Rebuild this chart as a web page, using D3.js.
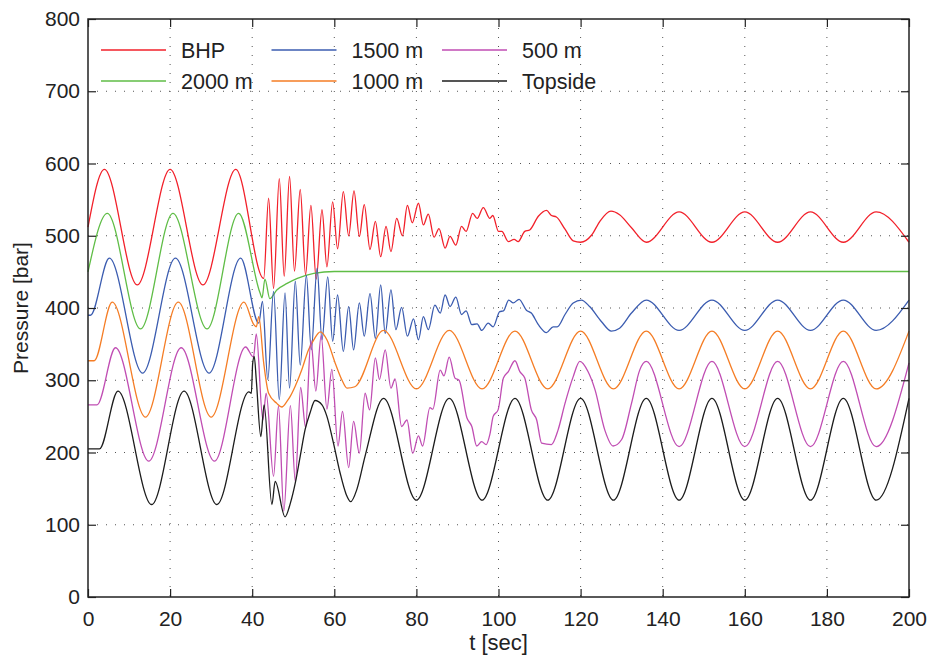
<!DOCTYPE html>
<html>
<head>
<meta charset="utf-8">
<script src="https://cdn.jsdelivr.net/npm/d3@7"></script>
<style>
  body { margin: 0; background: #fff; }
  text { font-family: "Liberation Sans", Arial, Helvetica, sans-serif; fill: #222; }
</style>
</head>
<body>
<div id="chart"></div>
<script>
// Valeurs : [t (s), pression (bar)]
const bhp = [[0,512],[4,592],[12,432],[20,592],[28,432],[36,592],[42.8,441],[44,552],[45.2,427],[46.6,579],
  [47.8,444],[49.1,582],[50.3,451],[51.7,564],[53,446],[54.3,542],[55.6,440],[57,536],[58.2,457],[59.6,547],
  [60.8,482],[62.2,561],[63.5,500],[64.8,562],[66.1,499],[67.3,543],[68.7,481],[70,520],[71.3,471],[72.6,513],
  [73.8,478],[75.2,524],[76.6,500],[77.8,542],[79,518],[80.5,545],[81.7,515],[82.9,530],[84.3,498],[85.5,510],
  [87,483],[88.2,499],[89.6,487],[91,513],[92.1,506],[93.7,531],[94.8,524],[96.3,539],[97.9,524],[98.6,528],
  [100,506],[100.8,506],[102.4,492],[103.8,495],[104.8,492],[106.4,506],[107.6,508],[109.7,527],[111.7,535],
  [112.9,528],[114.1,526],[116.2,509],[118.2,493],[120,491],[122.7,501],[124.7,520],[127.4,534],[129.5,529],
  [132.4,511],[136,491],[144,533],[152,491],[160,533],[168,491],[176,533],[184,491],[192,533],[200,491]];

const p2000 = [[0,450],[4.7,531],[12.8,371],[20.7,531],[29,371],[36.7,531],[41.9,421],[42.4,414],[43.1,440],
  [44.3,413],[46,425],[48.5,434],[51,441],[55,448],[60,450.5],[200,450.5]];

const p1500 = [[0,390],[0.6,390],[5.2,469],[13.3,310],[21.3,469],[29.5,310],[37.2,469],[41.6,379],[42.5,409],
  [43.8,301],[45.2,423],[46.6,273],[48,421],[49.1,289],[50.5,437],[51.7,321],[53.2,445],[54.4,342],[55.8,455],
  [57,356],[58.4,443],[59.6,354],[60.8,418],[62.2,340],[63.5,402],[64.7,342],[66.1,407],[67.3,361],[68.7,420],
  [70,358],[71.3,432],[72.4,365],[73.8,425],[75,370],[76.4,401],[77.8,361],[79.3,385],[80.5,356],[81.7,388],
  [82.9,370],[84.5,404],[85.8,393],[87,418],[88.2,402],[89.6,415],[91,391],[92.1,396],[93.5,377],[94.8,378],
  [95.9,369],[97.5,379],[98.7,374],[100.3,395],[101.2,396],[102.5,411],[103.6,407],[105,412],[106.8,397],
  [108,393],[109.7,377],[111.7,366],[113.3,374],[114.3,374],[116.2,391],[118.2,407],[120.2,411],[122.2,402],
  [125.1,381],[127.5,368],[129.5,372],[132.4,393],[136,411],[144,369],[152,411],[160,369],[168,411],[176,369],
  [184,411],[192,369],[200,411]];

const p1000 = [[0,327],[1.5,327],[5.9,408],[14,249],[22,408],[30,249],[38,408],[40.4,377],[41,374],[41.6,388],
  [42.8,324],[44,282],[46,268],[47.2,263],[48.5,271],[49.3,278],[50.5,292],[52.1,315],[53.7,342],[55,356],
  [56.6,367],[58.2,356],[60.2,324],[61.8,301],[63.1,289],[65,291],[72,369],[80,288],[88,369],[96,288],
  [104,368],[112,288],[120,368],[128,288],[136,368],[144,288],[152,368],[160,288],[168,368],[176,288],
  [184,368],[192,288],[200,368]];

const p500 = [[0,266],[2.2,266],[6.7,345],[14.8,188],[22.7,345],[30.8,188],[38.4,346],[40.3,332],[41,364],
  [42.6,245],[43.4,282],[45.2,167],[46.4,264],[47.7,119],[49.3,265],[50.5,160],[51.8,290],[53,235],[54.3,355],
  [55.5,285],[56.8,362],[58.2,260],[59.4,315],[60.9,209],[62,257],[63.5,179],[64.7,243],[66.1,199],[67.5,282],
  [68.6,259],[70,331],[71,301],[72.4,342],[73.8,289],[74.8,302],[76.4,236],[77.7,245],[79.1,199],[80.5,223],
  [81.5,209],[83.3,262],[84,260],[85.8,314],[86.7,306],[88,332],[89.4,303],[90.4,300],[92.3,248],[93.5,236],
  [94.7,209],[95.9,215],[97,211],[97.9,225],[98.7,250],[99.9,259],[101.2,303],[102.4,312],[104,327],
  [105.2,312],[106.4,303],[108,259],[109.3,245],[110.5,213],[112.9,211],[114.5,231],[116.2,268],[118.2,305],
  [119.8,326],[121.8,312],[123.5,287],[125.9,231],[127.9,209],[130,218],[132.4,268],[134.4,314],[136,326],
  [144,208],[152,326],[160,208],[168,326],[176,208],[184,326],[192,208],[200,324]];

const topside = [[0,205],[2.8,205],[7.3,285],[15.5,128],[23.4,285],[31.4,128],[39.2,284],[39.8,282],[40.1,322],
  [40.5,333],[41,300],[42.1,222],[42.9,266],[44.8,128],[45.6,160],[48,111],[49.3,130],[50.5,158],[51.7,195],
  [52.9,232],[54.1,255],[55.3,272],[57,266],[58.2,250],[59.8,213],[61.4,172],[62.9,142],[64,132],[65.5,149],
  [67.5,195],[72,275],[80,134],[88,275],[96,134],[104,275],[112,134],[120,275],[128,134],[136,275],[144,134],
  [152,275],[160,134],[168,275],[176,134],[184,275],[192,134],[200,275]];

const seriesNames = ["BHP", "2000 m", "1500 m", "1000 m", "500 m", "Topside"];
const seriesData = [bhp, p2000, p1500, p1000, p500, topside];
const xTicks = [0, 20, 40, 60, 80, 100, 120, 140, 160, 180, 200];
const yTicks = [0, 100, 200, 300, 400, 500, 600, 700, 800];

const couleurs = ["#f2202a", "#5fbd46", "#3b5cb0", "#f57d25", "#c04db3", "#1c1c1c"];

// Dimensions et marges
const margin = {top: 19, right: 22, bottom: 62, left: 88},
    width = 931 - margin.left - margin.right,
    height = 659 - margin.top - margin.bottom;

const svg = d3.select("#chart")
    .append("svg")
    .attr("width", 931)
    .attr("height", 659)
    .append("g")
    .attr("transform", `translate(${margin.left},${margin.top})`);

const x = d3.scaleLinear().domain([0, 200]).range([0, width]);
const y = d3.scaleLinear().domain([0, 800]).range([height, 0]);

// Grille pointillee
svg.append("g")
    .selectAll("line")
    .data(xTicks.slice(1, -1))
    .join("line")
    .attr("x1", d => x(d)).attr("x2", d => x(d))
    .attr("y1", 0).attr("y2", height)
    .attr("stroke", "#555").attr("stroke-width", 1)
    .attr("stroke-dasharray", "1,8");
svg.append("g")
    .selectAll("line")
    .data(yTicks.slice(1, -1))
    .join("line")
    .attr("y1", d => y(d)).attr("y2", d => y(d))
    .attr("x1", 0).attr("x2", width)
    .attr("stroke", "#555").attr("stroke-width", 1)
    .attr("stroke-dasharray", "1,8");

// Courbes
const line = d3.line()
    .x(d => x(d[0]))
    .y(d => y(d[1]))
    .curve(d3.curveMonotoneX);

svg.append("g")
    .selectAll("path")
    .data(seriesData)
    .join("path")
    .attr("fill", "none")
    .attr("stroke", (d, i) => couleurs[i])
    .attr("stroke-width", 1.3)
    .attr("d", line);

// Axes (graduations vers l'interieur, sur les quatre cotes)
const tickLen = 8;
svg.append("g")
    .attr("transform", `translate(0,${height})`)
    .call(d3.axisBottom(x).tickValues(xTicks).tickSizeInner(-tickLen).tickSizeOuter(0).tickPadding(14))
    .call(g => g.select(".domain").remove());
svg.append("g")
    .call(d3.axisTop(x).tickValues(xTicks).tickSizeInner(-tickLen).tickSizeOuter(0).tickFormat(""))
    .call(g => g.select(".domain").remove());
svg.append("g")
    .call(d3.axisLeft(y).tickValues(yTicks).tickSizeInner(-tickLen).tickSizeOuter(0).tickPadding(8))
    .call(g => g.select(".domain").remove());
svg.append("g")
    .attr("transform", `translate(${width},0)`)
    .call(d3.axisRight(y).tickValues(yTicks).tickSizeInner(-tickLen).tickSizeOuter(0).tickFormat(""))
    .call(g => g.select(".domain").remove());

svg.selectAll(".tick line").attr("stroke", "#222").attr("stroke-width", 1.2);
svg.selectAll(".tick text")
    .attr("font-size", 21)
    .attr("font-family", "Liberation Sans, Arial, sans-serif")
    .attr("fill", "#222");

// Cadre
svg.append("rect")
    .attr("x", 0).attr("y", 0)
    .attr("width", width).attr("height", height)
    .attr("fill", "none")
    .attr("stroke", "#222")
    .attr("stroke-width", 1.5);

// Titres des axes
svg.append("text")
    .attr("text-anchor", "middle")
    .attr("x", width / 2)
    .attr("y", height + 53)
    .attr("font-size", 22)
    .text("t [sec]");
svg.append("text")
    .attr("text-anchor", "middle")
    .attr("transform", `translate(${-60},${height / 2}) rotate(-90)`)
    .attr("font-size", 21)
    .text("Pressure [bar]");

// Legende : 3 colonnes, 2 lignes
const legende = svg.append("g");
seriesNames.forEach((name, i) => {
    const col = Math.floor(i / 2), row = i % 2;
    const lx = 13 + col * 170.5, ly = 31 + row * 31;
    legende.append("line")
        .attr("x1", lx).attr("x2", lx + 65)
        .attr("y1", ly).attr("y2", ly)
        .attr("stroke", couleurs[i]).attr("stroke-width", 1.3);
    legende.append("text")
        .attr("x", lx + 80).attr("y", ly)
        .attr("dy", "0.36em")
        .attr("font-size", 21.5)
        .text(name);
});
</script>
</body>
</html>
